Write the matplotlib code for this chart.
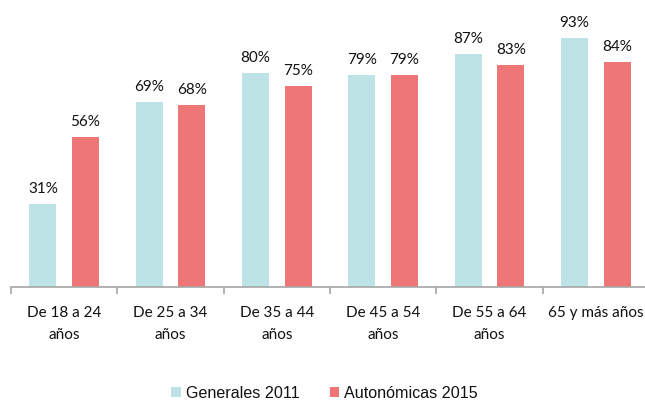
import numpy as np
import matplotlib.pyplot as plt

categorias = ["De 18 a 24\naños", "De 25 a 34\naños", "De 35 a 44\naños",
              "De 45 a 54\naños", "De 55 a 64\naños", "65 y más años"]
generales_2011 = [31, 69, 80, 79, 87, 93]
autonomicas_2015 = [56, 68, 75, 79, 83, 84]

c_gen = "#BDE3E6"
c_aut = "#EE7677"
lab_font = "Lato"

fig = plt.figure(figsize=(6.45, 4.01), dpi=100)
ax = fig.add_axes([11 / 645, 1 - 287 / 401, 638 / 645, 287 / 401])

x = np.arange(len(categorias))
w = 0.255
off = 0.20
b1 = ax.bar(x - off, generales_2011, w, color=c_gen, label="Generales 2011")
b2 = ax.bar(x + off, autonomicas_2015, w, color=c_aut, label="Autonómicas 2015")

for bars, vals in ((b1, generales_2011), (b2, autonomicas_2015)):
    for b, v in zip(bars, vals):
        ax.text(b.get_x() + b.get_width() / 2, v + 3, f"{v}%", ha="center", va="bottom",
                fontsize=11, family=lab_font, color="#111111")

ax.set_xlim(-0.5, len(categorias) - 0.5)
ax.set_ylim(0, 287 / (249 / 93))

for s in ["top", "right", "left"]:
    ax.spines[s].set_visible(False)
ax.spines["bottom"].set_color("#A6A6A6")
ax.spines["bottom"].set_linewidth(1.2)
ax.set_yticks([])

ax.set_xticks(x)
ax.set_xticklabels(categorias, family=lab_font, fontsize=11, color="#111111", linespacing=1.65)
ax.tick_params(axis="x", which="major", length=0, pad=14)
ax.set_xticks(np.arange(-0.5, len(categorias), 1.0), minor=True)
ax.tick_params(axis="x", which="minor", length=5, width=1.2, color="#A6A6A6", direction="out")

leg = fig.legend(handles=[b1, b2], loc="center", bbox_to_anchor=(0.503, 1 - 393 / 401),
                 ncol=2, frameon=False, handlelength=0.6, handleheight=0.6,
                 handletextpad=0.3, columnspacing=1.9,
                 prop={"family": "Liberation Sans", "size": 11.6})
for t in leg.get_texts():
    t.set_color("#111111")

fig.savefig("out.png", dpi=100)
